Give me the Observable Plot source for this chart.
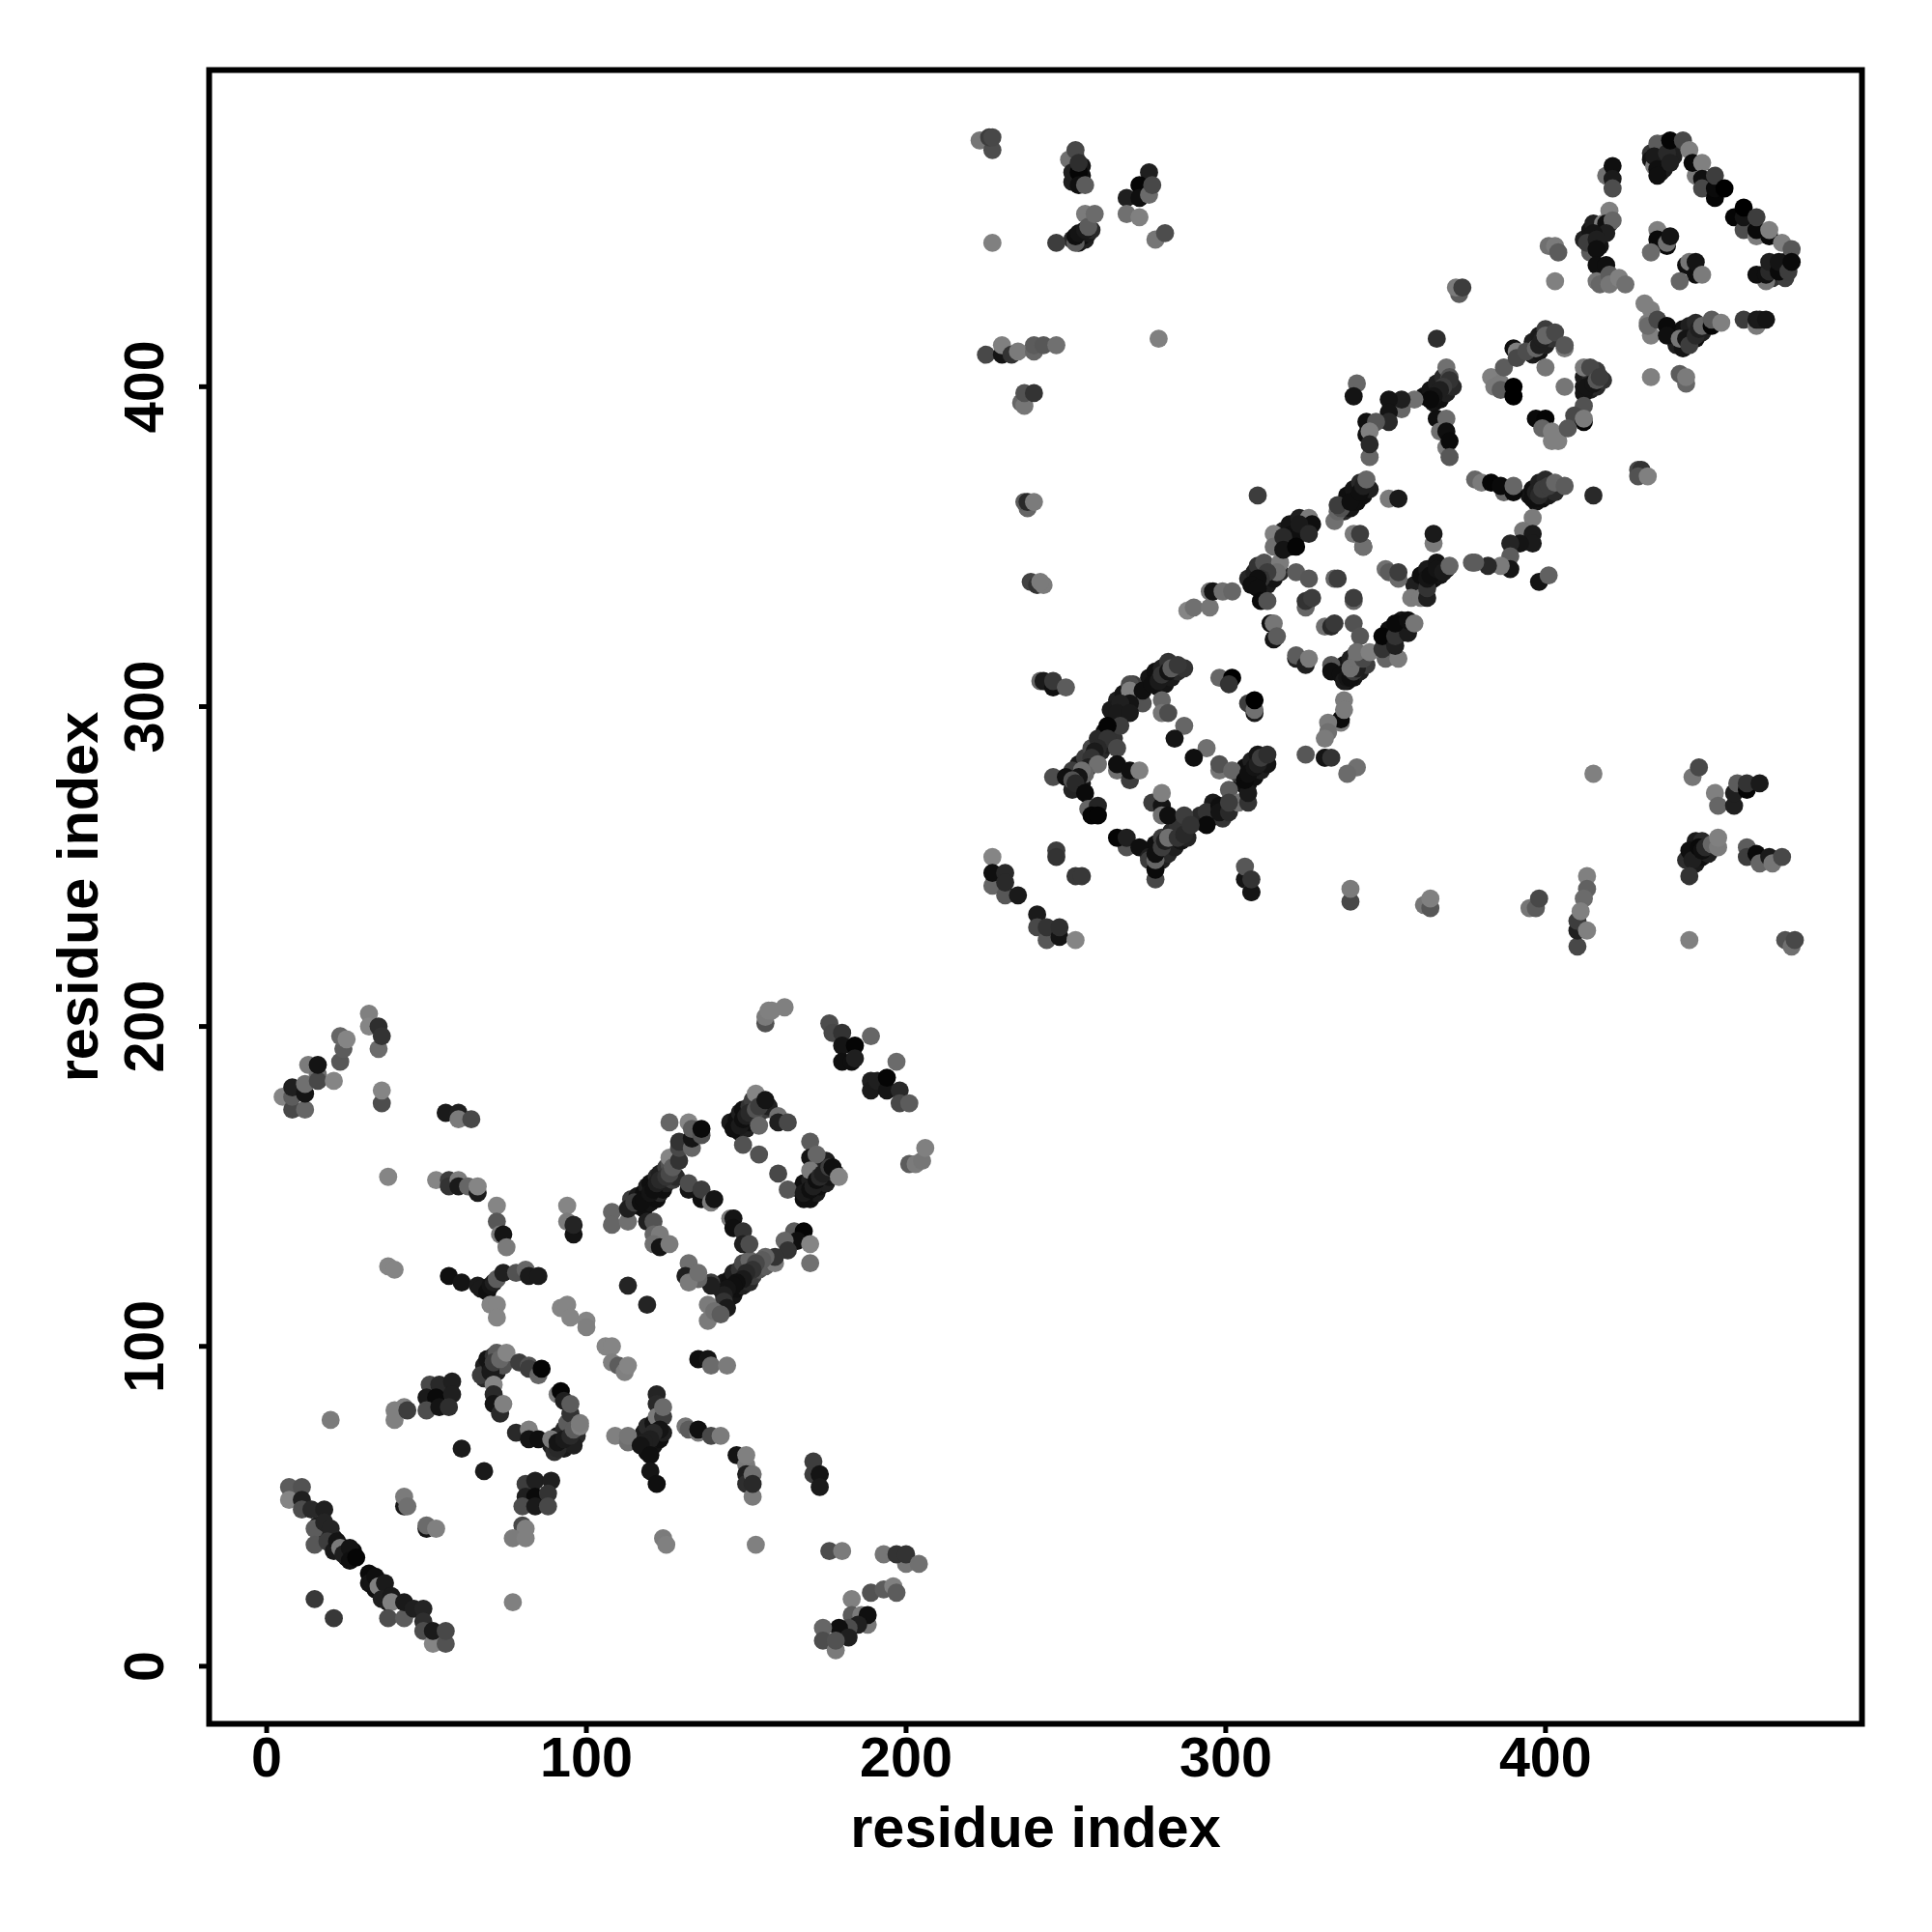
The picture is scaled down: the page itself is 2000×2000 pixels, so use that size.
<!DOCTYPE html>
<html>
<head>
<meta charset="utf-8">
<script src="https://cdn.jsdelivr.net/npm/d3@7"></script>
<script src="https://cdn.jsdelivr.net/npm/@observablehq/plot@0.6"></script>
<style>html,body{margin:0;padding:0;background:#fff}</style>
</head>
<body>
<div id="chart"></div>
<script>
// Each contact: [residue i, residue j, score]
const ticks = [0, 100, 200, 300, 400];
const axisLabel = "residue index";

const strandsLow = [[116,144,30],[118,143,15],[120,145,20],[122,146,15],[123,148,40],[124,149,15],[125,151,30],[127,152,60],[128,153,40],[114,146,60],[116,147,25],[118,148,15],[119,150,30],[120,151,15],[122,153,40],[123,154,30],[125,156,60],[126,157,80],[148,167,15],[150,168,30],[151,170,15],[153,171,25],[154,173,40],[156,174,60],[157,175,30],[145,170,25],[147,171,15],[148,173,30],[149,174,15],[151,175,50],[152,177,60],[170,146,15],[172,148,25],[173,150,15],[175,151,30],[176,153,20],[178,154,60],[167,149,20],[168,151,15],[170,152,30],[171,154,15],[173,156,40],[175,158,30],[146,116,20],[147,118,15],[149,119,30],[151,120,40],[152,122,60],[154,124,80],[156,125,90],[142,118,40],[143,120,20],[145,121,15],[146,123,30],[148,124,50],[149,126,70],[151,127,100],[68,94,30],[69,96,20],[71,97,50],[72,98,90],[68,90,40],[72,92,30],[74,94,80],[89,69,30],[91,72,25],[93,74,40],[94,76,90],[90,67,45],[93,68,25],[95,70,15],[97,72,40],[96,69,30],[118,73,25],[119,75,40],[121,76,20],[122,74,15],[119,67,15],[121,69,20],[123,71,15],[124,73,30],[16,44,30],[18,41,25],[21,40,15],[24,37,20],[25,34,15],[27,36,10],[32,29,10],[32,26,20],[34,24,15],[36,24,25],[37,22,30],[38,20,20]];
const strandsMid = [[279,306,15],[281,307,20],[283,309,25],[285,311,40],[287,312,50],[276,309,20],[278,311,15],[280,312,30],[282,314,50],[262,292,15],[265,296,20],[268,299,15],[271,302,25],[272,304,10],[266,302,30],[268,304,20],[264,299,25],[271,307,60],[257,283,30],[259,284,20],[261,286,40],[263,288,30],[265,290,50],[254,282,25],[256,284,60],[258,287,70],[260,290,40],[252,280,60],[252,274,35],[255,276,20],[280,252,30],[282,254,40],[284,256,30],[286,258,20],[288,259,35],[276,255,25],[278,257,15],[280,259,60],[283,261,40],[285,263,50],[305,276,15],[307,276,20],[309,278,15],[311,280,30],[313,282,20],[304,279,60],[306,281,15],[308,283,30],[310,285,20],[292,264,20],[295,265,10],[297,266,25],[299,265,50],[296,270,25],[292,266,40],[311,337,15],[313,338,25],[315,340,20],[317,342,40],[307,340,40],[309,342,30],[310,344,50],[312,345,80],[320,350,15],[322,353,5],[324,355,25],[318,355,30],[320,357,20],[321,354,15],[323,359,30],[338,308,15],[340,309,20],[342,311,30],[344,313,60],[335,311,30],[337,313,20],[339,315,30],[341,317,40],[351,320,25],[355,323,30],[355,327,20],[351,324,15],[361,337,20],[363,338,25],[365,340,15],[367,341,20],[369,343,30],[359,338,30],[361,341,15],[363,343,25],[366,345,20]];
const strandsHigh = [[337,361,40],[339,362,20],[341,364,15],[343,366,15],[345,368,30],[338,366,15],[340,368,20],[342,370,40],[365,395,20],[367,396,15],[369,398,30],[371,400,40],[362,397,15],[364,399,20],[366,401,30],[368,403,40],[397,364,20],[399,365,15],[401,366,25],[403,367,40],[395,366,20],[396,368,15],[398,370,30],[400,371,40],[396,410,25],[398,411,20],[400,413,30],[402,415,50],[396,414,30],[398,416,25],[400,418,60],[412,400,20],[414,399,30],[416,400,40],[418,402,50],[412,403,25],[414,404,40],[416,405,60],[441,413,30],[443,412,20],[445,414,25],[447,415,15],[449,417,30],[441,416,25],[443,418,15],[445,419,30],[447,420,40],[414,445,25],[416,447,15],[418,449,30],[420,451,40],[412,446,30],[414,449,20],[415,451,30],[417,444,20],[436,474,25],[437,470,15],[436,467,30],[433,473,50],[433,471,20],[437,476,30],[441,475,40],[440,472,30],[437,468,25],[468,435,30],[471,434,50],[474,435,30],[472,437,15],[475,439,20],[475,434,60],[446,254,20],[447,251,25],[449,253,15],[451,254,30],[447,258,25],[449,258,40],[254,445,20],[256,446,30],[252,446,40],[255,447,15],[257,448,25],[258,449,40],[253,470,25],[252,464,30],[255,466,15],[253,472,60],[255,469,20]];
const clusterA1 = [[5,178,130],[8,174,70],[12,174,100],[8,178,90],[8,181,30],[12,179,20],[12,182,110],[13,188,120],[16,185,110],[16,183,70],[16,188,20],[21,183,130],[23,189,85],[24,193,90],[23,197,100],[25,196,130],[32,204,125],[32,200,130],[35,193,105],[35,200,45],[36,197,50],[36,176,75],[36,180,130],[38,153,130],[56,173,25],[60,173,30],[60,171,120],[64,171,70],[53,152,130],[57,152,60],[57,150,50],[60,152,120],[60,150,25],[63,150,100],[66,148,25],[66,150,130],[72,144,130],[72,139,85],[73,135,120],[74,135,20],[75,131,120],[94,144,130],[94,139,120],[96,135,20],[96,138,35]];
const clusterA2 = [[38,125,130],[40,124,130],[57,122,15],[61,120,20],[66,119,25],[67,118,25],[69,117,15],[70,119,20],[71,120,30],[72,121,90],[74,123,30],[78,123,80],[81,124,100],[82,122,25],[85,122,25],[70,113,130],[72,113,130],[72,109,130],[92,112,130],[94,113,130],[95,109,130],[100,108,130],[100,106,125],[106,100,130],[108,100,130],[108,95,125],[110,94,90],[112,92,125],[113,94,130]];
const clusterA3 = [[67,91,60],[70,94,20],[70,92,25],[71,95,60],[73,96,100],[75,98,130],[79,95,60],[82,94,80],[82,93,60],[85,91,100],[86,93,5],[71,88,130],[71,85,40],[71,82,20],[73,79,40],[74,82,125],[91,85,120],[92,86,5],[93,83,30],[95,79,50],[95,82,90],[51,88,70],[54,88,40],[58,89,30],[50,84,25],[53,84,10],[58,85,30],[50,80,75],[54,81,20],[57,81,45],[40,80,125],[43,81,125],[40,77,125],[44,80,60],[20,77,120]];
const clusterA4 = [[78,73,40],[82,74,125],[82,71,20],[85,71,15],[89,71,120],[91,68,40],[91,70,20],[93,71,25],[95,72,40],[96,74,90],[98,75,125],[98,76,120],[61,68,25],[68,61,25],[81,57,60],[84,58,30],[89,58,30],[81,53,30],[84,53,10],[88,54,50],[80,50,75],[84,50,25],[88,50,70],[80,44,70],[81,43,125],[77,40,120],[81,40,125],[77,20,125]];
const clusterA5 = [[7,56,90],[11,56,80],[7,52,130],[11,52,30],[11,49,75],[14,49,40],[18,49,30],[15,43,90],[18,45,35],[20,43,35],[15,38,85],[19,39,60],[21,36,25],[22,39,20],[23,37,120],[24,35,30],[26,37,20],[26,33,15],[28,34,5],[15,21,55],[21,15,55],[33,26,20],[34,28,15],[35,25,125],[37,26,25],[36,21,30],[39,22,25],[39,20,125],[38,15,75],[43,15,90],[43,20,25],[46,18,30],[49,18,35],[49,14,45],[49,11,75],[52,7,130],[52,11,25],[56,7,80],[56,11,70],[43,50,25],[43,53,120],[44,50,110],[50,43,20],[50,44,105],[53,43,125]];
const clusterA6 = [[109,72,125],[113,70,110],[113,72,115],[122,85,35],[122,82,40],[122,78,120],[124,78,60],[124,81,105],[123,74,20],[121,73,40],[120,71,30],[118,70,30],[117,69,20],[120,66,15],[120,61,20],[122,57,15],[124,40,120],[125,38,125],[131,75,115],[132,74,90],[135,73,120],[135,74,15],[139,72,70],[142,72,120],[147,66,20],[150,63,120],[150,60,30],[150,57,45],[150,66,125],[152,60,110],[152,53,120],[152,57,40],[171,60,60],[171,64,60],[173,60,20],[173,56,25],[153,38,125],[176,36,75],[180,36,120],[193,35,115],[200,32,115],[197,35,50],[200,35,50],[204,32,110],[189,23,80],[193,24,90],[196,25,125],[197,23,90],[183,21,125],[183,16,90],[186,16,120],[188,13,115],[188,16,15],[185,13,30],[182,12,75],[179,12,15],[182,9,30],[174,12,100],[174,8,75],[178,5,120],[178,8,80]];
const clusterB1 = [[108,142,100],[108,138,100],[113,139,110],[113,143,30],[115,145,60],[117,145,15],[118,146,15],[120,148,20],[121,149,15],[122,151,30],[123,152,40],[125,153,50],[126,154,70],[126,159,130],[127,156,90],[129,158,50],[129,162,70],[129,164,50],[133,162,100],[133,165,20],[126,170,100],[132,170,130],[133,168,90],[136,166,80],[136,168,10],[132,149,20],[132,151,75],[136,146,15],[136,149,60],[139,145,120],[140,146,20],[119,139,30],[121,139,80],[121,135,100],[123,135,120],[121,132,110],[123,131,20],[126,132,120]];
const clusterB2 = [[153,179,130],[146,168,15],[148,169,25],[149,171,15],[150,172,30],[151,173,40],[153,174,80],[154,169,100],[154,175,60],[156,177,20],[149,163,80],[154,160,80],[160,172,110],[160,170,30],[163,170,70],[160,154,70],[163,149,85],[170,164,90],[170,159,20],[172,160,100],[170,155,120],[168,146,15],[168,148,25],[170,149,15],[171,150,30],[172,152,15],[173,153,40],[174,154,30],[176,156,60],[177,156,15],[179,153,130],[145,140,120],[146,140,20],[146,137,15],[149,136,50],[149,132,30],[151,132,75]];
const clusterB3 = [[165,136,90],[168,136,5],[166,133,15],[170,132,130],[170,126,110],[162,133,100],[163,130,50],[159,126,120],[159,128,50],[156,128,100],[155,127,90],[153,126,70],[152,124,50],[150,123,40],[149,121,25],[147,120,15],[146,119,15],[144,118,20],[143,116,30],[143,114,50],[144,112,25],[138,113,120],[138,108,120],[140,111,110],[142,110,90],[139,120,60],[139,119,30],[135,121,100],[132,126,110],[131,122,30],[132,120,120],[135,123,110],[113,119,35],[119,113,35]];
const clusterB4 = [[156,201,80],[156,203,120],[157,205,125],[158,205,125],[162,206,125],[176,201,75],[177,198,70],[180,198,50],[180,194,20],[184,194,5],[180,189,15],[183,189,15],[184,190,30],[189,197,100],[197,189,105],[189,183,30],[189,180,25],[191,183,30],[194,180,20],[194,184,5],[198,180,40],[198,176,70],[201,176,90],[201,157,90],[203,157,120],[205,158,115],[206,162,125],[135,96,15],[138,96,20],[139,94,105],[144,94,120]];
const clusterC1 = [[242,308,100],[243,308,25],[246,306,15],[246,308,55],[250,306,90],[270,307,75],[270,305,125],[274,301,80],[274,305,15],[270,301,20],[267,301,30],[266,298,25],[270,298,25],[267,294,60],[263,294,5],[277,307,15],[279,308,25],[280,310,50],[282,311,20],[283,312,90],[285,313,55],[280,302,100],[280,298,115],[282,298,75],[287,294,100],[284,290,20],[294,287,110],[290,284,15],[298,280,115],[298,282,80],[302,280,100]];
const clusterC2 = [[263,290,50],[266,287,70],[260,287,40],[259,286,25],[258,284,50],[257,281,30],[260,282,110],[256,279,100],[255,280,110],[254,278,20],[246,278,75],[250,278,15],[252,277,80],[253,276,40],[256,273,10],[257,268,100],[260,269,35],[258,266,5],[260,266,5],[266,280,110],[266,282,15],[270,277,60],[270,280,15],[273,280,125],[277,270,60],[280,269,20],[280,273,125],[280,266,110],[282,266,15],[287,266,60],[294,267,50],[294,263,10],[298,269,15],[298,267,20],[301,267,40]];
const clusterC3 = [[269,256,80],[266,259,5],[269,259,30],[273,256,15],[276,253,30],[276,252,60],[278,246,70],[278,249,10],[278,252,100],[278,254,15],[280,256,60],[281,258,30],[282,259,110],[285,259,50],[287,260,40],[289,263,50],[301,274,90],[304,270,110],[301,270,60],[307,270,50],[307,273,25],[306,277,10],[307,279,15],[309,281,20],[310,282,30],[311,284,60],[313,285,45]];
const clusterC4 = [[227,253,130],[227,244,100],[231,241,85],[227,248,15],[231,248,40],[231,245,40],[235,241,25],[241,235,25],[241,231,70],[244,227,85],[244,231,50],[248,228,20],[248,231,45],[253,227,130],[247,255,60],[247,253,50],[253,247,55],[255,247,55],[306,246,20],[306,250,85],[308,242,110],[308,242,20],[308,246,50],[339,239,70],[339,243,120],[362,238,115],[364,237,85],[364,240,125],[395,237,115],[397,237,90],[398,240,70],[413,247,125],[413,243,95],[412,240,105],[410,225,70],[410,230,30],[410,233,60],[411,236,125],[413,230,125]];
const clusterC5 = [[415,279,125],[446,278,115],[448,281,70],[453,273,125],[454,269,100],[459,269,30],[459,273,30],[460,276,90],[463,274,5],[463,276,50],[467,276,25],[444,252,45],[445,255,15],[446,252,30],[448,256,10],[449,255,15],[450,256,40],[452,257,100],[454,256,120],[454,259,125],[445,247,50],[463,256,90],[463,253,60],[466,254,10],[467,251,100],[470,253,25],[471,251,115],[474,253,70],[445,227,125],[475,227,80],[477,225,110],[478,227,70]];
const clusterD1 = [[310,366,60],[315,354,125],[315,350,110],[317,345,120],[316,342,110],[318,353,40],[318,349,20],[322,350,5],[326,359,120],[327,357,15],[323,357,25],[326,354,40],[313,342,60],[311,340,50],[310,340,15],[308,338,15],[310,337,15],[311,333,10],[313,333,80],[322,342,90],[326,340,85],[334,340,100],[335,340,60],[325,331,100],[325,333,50],[327,334,60],[340,333,100],[340,334,60],[314,326,15],[315,326,115],[315,321,20],[316,322,90],[288,330,130],[290,331,110],[295,331,115],[295,336,115],[296,336,20],[299,336,110],[302,336,100],[322,315,30],[322,316,90],[325,313,30],[326,315,120],[331,325,110],[333,325,40],[334,326,55],[340,326,80],[342,322,85]];
const clusterD2 = [[334,358,110],[335,361,100],[336,362,80],[335,363,60],[340,364,15],[339,364,15],[342,367,15],[343,369,30],[344,371,100],[351,365,120],[354,365,25],[365,351,120],[365,354,25],[340,354,120],[343,350,25],[343,350,110],[342,354,60],[350,343,110],[351,342,90],[354,340,105],[354,342,60],[358,334,120],[361,334,120],[363,334,30],[363,337,50],[363,340,20],[364,341,15],[366,343,20],[368,342,25],[370,344,100],[377,345,90],[333,313,85],[333,311,15],[336,310,15],[337,308,25],[338,309,20],[339,309,15],[340,311,60],[341,312,30],[339,312,110],[341,315,110],[343,315,70],[341,317,110],[345,317,125],[350,315,100],[354,315,120],[349,318,50],[349,322,5],[353,319,30],[353,322,50],[357,323,25],[353,326,10],[357,327,15],[359,326,115]];
const clusterD3 = [[298,309,100],[302,309,0],[301,307,50],[307,301,60],[309,298,25],[309,299,110],[309,302,0],[336,295,120],[336,296,10],[337,302,120],[337,299,120],[332,295,120],[332,292,110],[331,290,120],[325,285,85],[331,284,100],[331,284,20],[333,284,50],[341,281,110],[338,279,105]];
const clusterE1 = [[366,415,45],[369,406,110],[370,403,80],[370,402,50],[368,400,60],[367,399,30],[365,397,20],[364,396,10],[359,396,110],[355,393,100],[355,396,30],[351,396,20],[351,392,20],[351,389,40],[344,389,15],[347,389,85],[344,385,15],[345,386,125],[345,378,100],[345,382,40],[366,390,15],[369,390,105],[367,386,110],[369,386,15],[369,381,120],[370,383,10],[370,378,85],[341,401,100],[340,397,20],[378,371,100],[380,370,120],[383,370,5],[387,367,100],[386,369,10],[390,367,10],[390,369,100],[396,365,15],[397,367,30],[398,366,40],[399,368,60],[401,369,60],[403,370,100],[406,369,90],[396,359,120],[393,355,115],[396,354,25],[396,351,25],[392,351,20],[389,351,35],[389,347,90],[389,343,20],[386,344,120],[382,344,40],[378,345,90],[415,366,40],[398,339,20],[401,341,95],[429,374,70],[430,374,50],[429,372,80],[432,372,125]];
const clusterE2 = [[383,403,125],[384,400,120],[386,401,120],[386,399,90],[387,406,90],[390,397,0],[390,400,0],[390,412,15],[391,411,125],[391,409,70],[394,411,75],[397,412,100],[398,413,30],[399,415,30],[400,416,100],[403,417,70],[406,412,120],[406,413,85],[400,406,115],[406,400,115],[412,406,120],[414,406,70],[412,398,20],[413,400,20],[415,401,20],[416,402,85],[417,403,60],[412,394,80],[409,391,70],[412,389,5],[412,390,120],[397,390,10],[400,390,5],[399,387,100],[402,386,125],[402,383,125],[404,383,125],[407,387,85]];
const clusterE3 = [[431,426,125],[433,424,125],[432,420,125],[433,416,125],[432,419,105],[435,421,70],[438,419,10],[438,416,15],[442,415,115],[444,415,20],[445,413,60],[447,416,40],[448,418,30],[449,419,100],[452,419,5],[452,421,90],[455,420,125],[462,421,60],[466,419,120],[466,421,25],[467,421,25],[469,421,20],[433,403,125],[442,404,90],[444,401,100],[444,403,120]];
const clusterE4 = [[419,466,110],[421,469,15],[421,465,25],[421,462,75],[420,455,125],[418,451,125],[419,451,15],[421,452,100],[419,448,30],[415,448,20],[414,442,90],[413,445,60],[416,446,30],[416,443,15],[416,438,15],[419,438,15],[416,433,115],[417,432,100],[420,435,90],[420,432,115],[423,434,125],[425,432,110],[434,469,120],[435,476,90],[434,472,25],[435,468,15],[435,466,15],[438,473,40],[439,470,30],[439,477,5],[443,477,70],[445,474,125],[447,466,120],[446,470,10],[449,470,125],[449,465,15],[449,462,70],[453,459,5],[453,462,10],[453,466,60],[456,462,0],[459,453,5],[462,449,75],[462,453,20],[462,456,0],[466,447,120],[466,449,10],[466,453,60],[470,447,10],[470,449,125],[474,445,125],[477,443,85],[469,433,115],[466,435,15],[469,435,15],[470,436,40],[470,439,30],[473,436,10],[473,439,20],[476,436,60],[477,439,10],[435,449,125],[435,446,10],[438,444,10],[438,445,110],[439,447,20],[433,442,105],[444,438,15],[445,439,115],[447,435,15],[447,439,20],[449,435,120],[442,433,100],[401,444,110],[403,444,120],[404,442,90],[403,433,125],[373,429,90],[372,431,120],[374,431,60]];
const clusterF1 = [[223,477,115],[227,474,75],[226,478,60],[227,478,70],[227,445,125],[247,445,60],[251,471,110],[253,474,70],[252,467,30],[254,467,5],[254,470,45],[254,463,15],[256,463,90],[253,445,90],[253,447,15],[254,448,20],[256,449,25],[256,454,120],[257,450,90],[259,454,105],[276,467,30],[273,463,5],[269,459,30],[273,459,15],[276,460,105],[277,463,70],[269,454,110],[273,453,125],[278,446,115],[281,448,75],[279,415,125]];
const clusterF2 = [[225,410,70],[230,410,20],[230,413,125],[233,410,50],[235,411,120],[240,411,100],[240,413,90],[243,413,85],[247,413,110],[236,395,100],[237,394,115],[237,398,80],[240,398,50],[238,362,100],[237,364,90],[238,364,40],[240,364,120],[239,339,65],[241,338,50],[243,338,120],[242,339,120]];
const contacts = [strandsLow,strandsMid,strandsHigh,clusterA1,clusterA2,clusterA3,clusterA4,clusterA5,clusterA6,clusterB1,clusterB2,clusterB3,clusterB4,clusterC1,clusterC2,clusterC3,clusterC4,clusterC5,clusterD1,clusterD2,clusterD3,clusterE1,clusterE2,clusterE3,clusterE4,clusterF1,clusterF2].flat();

const tickFont = {fontFamily:"Liberation Sans", fontWeight:"bold", fontSize:57.5};
const titleFont = {fontFamily:"Liberation Sans", fontWeight:"bold", fontSize:59.5, fill:"#000", lineAnchor:"middle", textAnchor:"middle"};
const chart = Plot.plot({
  width:2000, height:2000,
  marginLeft:216, marginRight:73, marginTop:72, marginBottom:216,
  x:{domain:[-18,499]},
  y:{domain:[-18,499]},
  color:{type:"linear", domain:[0,135], range:["#000000","#8a8a8a"]},
  style:{background:"#fff"},
  marks:[
    Plot.dot(contacts,{x:d=>d[0],y:d=>d[1],fill:d=>d[2],r:9.4,stroke:null}),
    Plot.axisX({ticks,tickSize:10,tickPadding:4,strokeWidth:5,...tickFont,label:null}),
    Plot.axisY({ticks,tickSize:10,tickPadding:38,strokeWidth:5,tickRotate:-90,...tickFont,label:null}),
    Plot.text([axisLabel],{frameAnchor:"bottom",dy:108,...titleFont}),
    Plot.text([axisLabel],{frameAnchor:"left",rotate:-90,dx:-135,...titleFont}),
    Plot.frame({stroke:"#000",strokeWidth:6})
  ]
});
document.getElementById("chart").appendChild(chart);
</script>
</body>
</html>
